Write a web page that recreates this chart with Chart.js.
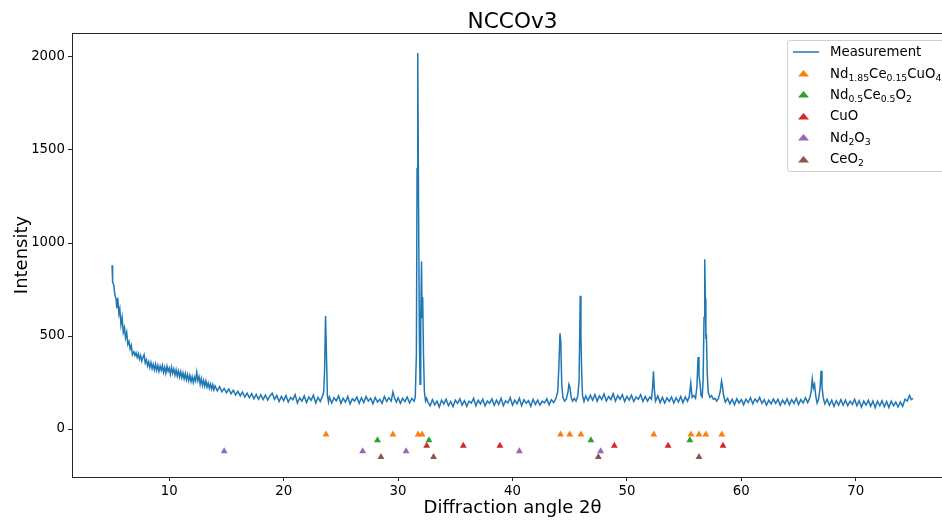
<!DOCTYPE html>
<html>
<head>
<meta charset="utf-8">
<title>NCCOv3</title>
<script src="https://cdn.jsdelivr.net/npm/chart.js@4/dist/chart.umd.min.js"></script>
<style>
    html, body { margin: 0; padding: 0; background: #fff; overflow: hidden; }
    #wrap { position: relative; width: 960px; height: 523px; }
    #legend {
        position: absolute; left: 787px; top: 40px;
        border: 1px solid #d0d0d0; border-radius: 3px;
        background: rgba(255, 255, 255, 0.8);
        padding: 0 6px 2px 5px;
        font-family: "DejaVu Sans", sans-serif; font-size: 13.3px; color: #000;
        white-space: nowrap;
    }
    #legend .row { height: 21.4px; display: flex; align-items: center; }
    #legend .mark { width: 26px; height: 10px; margin-right: 11px; display: inline-block; }
    #legend sub { font-size: 0.7em; vertical-align: -0.3em; line-height: 0; }
</style>
</head>
<body>
<div id="wrap">
    <canvas id="xrd" width="960" height="523"></canvas>
    <div id="legend"></div>
</div>
<script>
var measurement = [
    [5.0,880],[5.05,790],[5.15,775],[5.25,720],[5.35,700],[5.42,650],[5.5,705],[5.6,620],[5.68,645],[5.78,560],
    [5.88,600],[5.98,520],[6.08,545],[6.18,490],[6.28,520],[6.38,455],[6.48,470],[6.58,430],[6.68,450],[6.78,400],
    [6.9,415],[7.0,395],[7.1,410],[7.2,385],[7.3,405],[7.4,375],[7.5,395],[7.6,365],[7.7,385],[7.8,400],
    [7.9,355],[8.0,372],[8.1,340],[8.2,362],[8.3,330],[8.4,358],[8.5,325],[8.6,348],[8.7,318],[8.8,348],
    [8.9,315],[9.0,342],[9.1,310],[9.2,338],[9.3,315],[9.4,342],[9.5,305],[9.6,332],[9.7,300],[9.8,338],
    [9.9,310],[10.0,328],[10.1,295],[10.2,332],[10.3,300],[10.4,322],[10.5,290],[10.6,318],[10.7,285],[10.8,312],
    [10.9,280],[11.0,308],[11.1,275],[11.2,302],[11.3,270],[11.4,298],[11.5,265],[11.6,292],[11.7,260],[11.8,288],
    [11.9,255],[12.0,282],[12.1,250],[12.2,278],[12.3,258],[12.4,305],[12.5,260],[12.6,282],[12.7,240],[12.8,272],
    [12.9,235],[13.0,262],[13.1,230],[13.2,258],[13.3,225],[13.4,248],[13.5,220],[13.6,242],[13.7,215],[13.8,238],
    [13.9,210],[14.0,232],[14.2,205],[14.4,228],[14.6,200],[14.8,218],[15.0,195],[15.2,215],[15.4,190],[15.6,208],
    [15.8,183],[16.0,203],[16.2,178],[16.4,198],[16.6,172],[16.8,193],[17.0,168],[17.2,190],[17.4,162],[17.6,186],
    [17.8,160],[18.0,184],[18.2,158],[18.4,182],[18.6,155],[18.8,178],[19.0,192],[19.2,160],[19.4,180],[19.6,148],
    [19.8,175],[20.0,152],[20.2,180],[20.4,145],[20.6,170],[20.8,158],[21.0,185],[21.2,140],[21.4,168],[21.6,150],
    [21.8,178],[22.0,142],[22.2,172],[22.4,155],[22.6,182],[22.8,140],[23.0,170],[23.2,148],[23.4,178],[23.5,200],
    [23.58,320],[23.66,607],[23.74,400],[23.82,180],[23.92,145],[24.0,172],[24.2,140],[24.4,168],[24.6,152],[24.8,178],
    [25.0,138],[25.2,165],[25.4,145],[25.6,175],[25.8,135],[26.0,162],[26.2,150],[26.4,172],[26.6,138],[26.8,168],
    [27.0,142],[27.2,175],[27.4,150],[27.6,165],[27.8,135],[28.0,170],[28.2,145],[28.4,160],[28.6,138],[28.8,175],
    [29.0,148],[29.2,168],[29.4,150],[29.55,200],[29.7,165],[29.85,145],[30.0,168],[30.2,138],[30.4,165],[30.6,148],
    [30.8,172],[31.0,140],[31.2,165],[31.4,150],[31.5,170],[31.6,400],[31.66,1400],[31.72,2021],[31.78,1300],[31.86,500],
    [31.92,240],[31.98,600],[32.05,900],[32.1,600],[32.15,710],[32.22,400],[32.3,200],[32.4,150],[32.5,165],[32.6,145],
    [32.8,125],[33.0,158],[33.2,130],[33.4,150],[33.6,118],[33.8,155],[34.0,135],[34.2,160],[34.4,125],[34.6,148],
    [34.8,120],[35.0,155],[35.2,138],[35.4,162],[35.6,128],[35.8,152],[36.0,122],[36.2,150],[36.4,140],[36.6,165],
    [36.8,125],[37.0,155],[37.2,135],[37.4,160],[37.6,125],[37.8,150],[38.0,138],[38.2,162],[38.4,128],[38.6,155],
    [38.8,132],[39.0,165],[39.2,125],[39.4,152],[39.6,140],[39.8,168],[40.0,128],[40.2,155],[40.4,135],[40.6,165],
    [40.8,125],[41.0,158],[41.2,138],[41.4,152],[41.6,122],[41.8,160],[42.0,132],[42.2,155],[42.4,128],[42.6,150],
    [42.8,140],[43.0,162],[43.2,130],[43.4,158],[43.6,142],[43.8,165],[43.95,200],[44.05,330],[44.15,515],[44.22,470],
    [44.3,250],[44.4,170],[44.55,150],[44.7,160],[44.85,200],[44.93,240],[45.02,225],[45.12,170],[45.25,150],[45.4,165],
    [45.55,150],[45.7,175],[45.82,260],[45.92,716],[45.98,490],[46.05,300],[46.12,180],[46.25,148],[46.4,178],[46.6,152],
    [46.8,182],[47.0,155],[47.2,185],[47.4,150],[47.6,178],[47.8,158],[48.0,188],[48.2,150],[48.4,175],[48.6,158],
    [48.8,190],[49.0,150],[49.2,180],[49.4,160],[49.6,185],[49.8,148],[50.0,175],[50.2,155],[50.4,182],[50.6,148],
    [50.8,172],[51.0,160],[51.2,185],[51.4,148],[51.6,175],[51.8,150],[52.0,172],[52.15,160],[52.25,230],[52.32,310],
    [52.4,210],[52.5,150],[52.7,178],[52.9,142],[53.1,170],[53.3,140],[53.5,168],[53.7,148],[53.9,172],[54.1,140],
    [54.3,168],[54.5,145],[54.7,175],[54.9,142],[55.1,172],[55.3,150],[55.45,175],[55.58,247],[55.7,170],[55.85,180],
    [56.0,165],[56.12,230],[56.22,387],[56.3,290],[56.38,250],[56.48,180],[56.58,172],[56.66,260],[56.74,600],[56.8,913],
    [56.86,700],[56.9,495],[56.95,500],[57.02,300],[57.1,200],[57.25,170],[57.4,180],[57.55,160],[57.7,165],[57.85,150],
    [58.0,165],[58.15,200],[58.27,258],[58.35,230],[58.45,180],[58.6,145],[58.8,165],[59.0,135],[59.2,160],[59.4,130],
    [59.6,162],[59.8,140],[60.0,158],[60.2,130],[60.4,160],[60.6,142],[60.8,168],[61.0,135],[61.2,162],[61.4,145],
    [61.6,170],[61.8,138],[62.0,158],[62.2,128],[62.4,155],[62.6,135],[62.8,162],[63.0,138],[63.2,160],[63.4,128],
    [63.6,155],[63.8,135],[64.0,162],[64.2,130],[64.4,158],[64.6,138],[64.8,165],[65.0,132],[65.2,158],[65.4,140],
    [65.6,168],[65.8,142],[66.0,170],[66.1,200],[66.2,269],[66.3,220],[66.4,240],[66.5,180],[66.62,140],[66.75,160],
    [66.88,220],[66.97,313],[67.05,230],[67.15,170],[67.3,135],[67.5,160],[67.7,128],[67.9,155],[68.1,122],[68.3,152],
    [68.5,128],[68.7,158],[68.9,128],[69.1,155],[69.3,125],[69.5,150],[69.7,132],[69.9,160],[70.1,125],[70.3,152],
    [70.5,118],[70.7,150],[70.9,128],[71.1,155],[71.3,122],[71.5,150],[71.7,115],[71.9,150],[72.1,125],[72.3,152],
    [72.5,120],[72.7,148],[72.9,115],[73.1,150],[73.3,125],[73.5,145],[73.7,118],[73.9,145],[74.1,122],[74.3,160],
    [74.5,150],[74.7,180],[74.85,158],[75.0,165]
];

// Reference peak positions (2theta) for each phase
var nccoPeaks = [23.7, 29.55, 31.75, 32.1, 44.2, 45.0, 45.98, 52.35, 55.6, 56.3, 56.9, 58.3];
var nceoPeaks = [28.2, 32.7, 46.85, 55.5];
var cuoPeaks = [32.5, 35.7, 38.9, 48.9, 53.6, 58.4];
var nd2o3Peaks = [14.8, 26.9, 30.7, 40.6, 47.7];
var ceo2Peaks = [28.5, 33.1, 47.5, 56.3];

// Height at which each phase's markers sit
var phaseLevels = [-30, -60, -90, -120, -150];

var phaseNames = [
    'Nd<sub>1.85</sub>Ce<sub>0.15</sub>CuO<sub>4</sub>',
    'Nd<sub>0.5</sub>Ce<sub>0.5</sub>O<sub>2</sub>',
    'CuO',
    'Nd<sub>2</sub>O<sub>3</sub>',
    'CeO<sub>2</sub>'
];
var phaseColors = ['#ff7f0e', '#2ca02c', '#d62728', '#9467bd', '#8c564b'];
var phasePeaks = [nccoPeaks, nceoPeaks, cuoPeaks, nd2o3Peaks, ceo2Peaks];

var xTicks = [10, 20, 30, 40, 50, 60, 70];
var yTicks = [0, 500, 1000, 1500, 2000];

var font = '"DejaVu Sans", sans-serif';
var spine = '#262626';

// Frame + title, like matplotlib axes
var framePlugin = {
    id: 'frame',
    afterDraw: function (chart) {
        var a = chart.chartArea;
        var ctx = chart.ctx;
        ctx.save();
        ctx.strokeStyle = spine;
        ctx.lineWidth = 1;
        ctx.strokeRect(Math.round(a.left) + 0.5, Math.round(a.top) + 0.5,
            Math.round(a.right - a.left), Math.round(a.bottom - a.top));
        ctx.fillStyle = '#000';
        ctx.font = '21.6px ' + font;
        ctx.textAlign = 'center';
        ctx.textBaseline = 'middle';
        ctx.fillText('NCCOv3', (a.left + a.right) / 2, 22);
        ctx.restore();
    }
};

var datasets = [{
    type: 'line',
    label: 'Measurement',
    data: measurement.map(function (p) { return { x: p[0], y: p[1] }; }),
    borderColor: '#1f77b4',
    borderWidth: 1.5,
    pointRadius: 0,
    tension: 0,
    order: 10
}];

phasePeaks.forEach(function (peaks, i) {
    datasets.push({
        type: 'scatter',
        label: phaseNames[i],
        data: peaks.map(function (x) { return { x: x, y: phaseLevels[i] }; }),
        pointStyle: 'triangle',
        pointRadius: 4,
        borderWidth: 0,
        backgroundColor: phaseColors[i],
        order: 1
    });
});

var tickFont = { family: font, size: 13.3 };

function plainLabel(value) {
    return String(value);
}

//Create Chart
new Chart(document.getElementById('xrd'), {
    data: { datasets: datasets },
    options: {
        responsive: false,
        animation: false,
        devicePixelRatio: 1,
        layout: { padding: { top: 33, right: 7, left: 0, bottom: 0 } },
        plugins: {
            legend: { display: false },
            tooltip: { enabled: false }
        },
        scales: {
            x: {
                type: 'linear',
                min: 1.5,
                max: 78.5,
                afterFit: function (s) { s.height = 46; },
                afterBuildTicks: function (s) { s.ticks = xTicks.map(function (v) { return { value: v }; }); },
                grid: { drawOnChartArea: false, drawTicks: true, tickLength: 4, tickColor: spine },
                border: { display: true, color: spine, width: 1 },
                ticks: { color: '#000', font: tickFont, padding: 3, maxRotation: 0, callback: plainLabel },
                title: { display: true, text: 'Diffraction angle 2θ', color: '#000', font: { family: font, size: 18 }, padding: { top: 0, bottom: 4 } }
            },
            y: {
                type: 'linear',
                min: -258,
                max: 2129,
                afterFit: function (s) { s.width = 72; },
                afterBuildTicks: function (s) { s.ticks = yTicks.map(function (v) { return { value: v }; }); },
                grid: { drawOnChartArea: false, drawTicks: true, tickLength: 4, tickColor: spine },
                border: { display: true, color: spine, width: 1 },
                ticks: { color: '#000', font: tickFont, padding: 3, callback: plainLabel },
                title: { display: true, text: 'Intensity', color: '#000', font: { family: font, size: 18 }, padding: { top: 12, bottom: 0 } }
            }
        }
    },
    plugins: [framePlugin]
});

//Build legend (HTML so the formulas keep their subscripts)
var legend = document.getElementById('legend');
var html = '<div class="row"><svg class="mark" viewBox="0 0 26 10"><line x1="0" y1="5" x2="26" y2="5" stroke="#1f77b4" stroke-width="1.5"/></svg><span>Measurement</span></div>';
phaseNames.forEach(function (name, i) {
    html += '<div class="row"><svg class="mark" viewBox="0 0 26 10"><polygon points="10.5,2 16,8.5 5,8.5" fill="' + phaseColors[i] + '"/></svg><span>' + name + '</span></div>';
});
legend.innerHTML = html;
</script>
</body>
</html>
